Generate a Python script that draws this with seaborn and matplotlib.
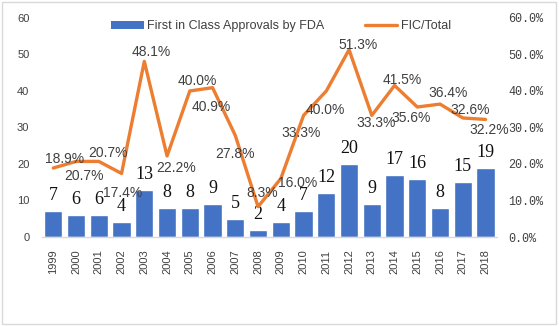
import matplotlib
matplotlib.use("Agg")
import matplotlib.pyplot as plt
from matplotlib.patches import Rectangle
from matplotlib.lines import Line2D
from matplotlib.patches import Patch
import seaborn as sns
import pandas as pd

years = [str(y) for y in range(1999, 2019)]
fic_approvals = [7, 6, 6, 4, 13, 8, 8, 9, 5, 2, 4, 7, 12, 20, 9, 17, 16, 8, 15, 19]
fic_share = [18.9, 20.7, 20.7, 17.4, 48.1, 22.2, 40.0, 40.9, 27.8, 8.3,
             16.0, 33.3, 40.0, 51.3, 33.3, 41.5, 35.6, 36.4, 32.6, 32.2]
left_ticks = [0, 10, 20, 30, 40, 50, 60]
right_ticks = [0.0, 10.0, 20.0, 30.0, 40.0, 50.0, 60.0]

# label offsets (pixels) for the share labels so they stay clear of the line
share_offsets = [(11, 9), (8, -15), (9, 8), (1, -20), (7, 9), (9, -12), (8, 10),
                 (-1, -19), (0, -19), (4, 14), (17, -4), (-2, -18), (-1, -19),
                 (9, 5), (4, -8), (8, 5), (-6, -11), (8, 11), (7, 8), (4, -11)]

BAR = "#4472C4"
LINE = "#ED7D31"
TXT = "#404040"

df = pd.DataFrame({"year": years, "approvals": fic_approvals,
                   "pos": range(len(years)), "share": fic_share})

sns.set_theme(style="white")
plt.rcParams["font.family"] = ["Liberation Sans", "DejaVu Sans"]

fig = plt.figure(figsize=(5.59, 3.26), dpi=100)
ax = fig.add_axes([0.075, 0.273, 0.814, 0.672])

sns.barplot(data=df, x="year", y="approvals", color=BAR, width=0.8,
            saturation=1, ax=ax, zorder=2)
ax.set_ylim(0, 60)
ax.set_yticks(left_ticks)
ax.set_yticklabels([str(t) for t in left_ticks], fontsize=8, color=TXT)
ax.set_xlabel("")
ax.set_ylabel("")
ax.tick_params(axis="x", labelrotation=90, labelsize=8, labelcolor=TXT,
               length=0, pad=9)
ax.tick_params(axis="y", length=0, pad=9)
for s in ["top", "left", "right"]:
    ax.spines[s].set_visible(False)
ax.spines["bottom"].set_color("#D9D9D9")
ax.spines["bottom"].set_linewidth(1)

for i, v in enumerate(fic_approvals):
    ax.annotate(str(v), (i, v), xytext=(0, 7), textcoords="offset pixels",
                ha="center", va="bottom", fontsize=13, color="#111111",
                family="Liberation Serif")

ax2 = ax.twinx()
sns.lineplot(data=df, x="pos", y="share", color=LINE, linewidth=2.4, ax=ax2,
             zorder=3)
ax2.set_ylim(0, 60)
ax2.set_yticks(right_ticks)
ax2.set_yticklabels([f"{t:.1f}%" for t in right_ticks], fontsize=8.5,
                    color=TXT, family="Liberation Mono")
ax2.tick_params(axis="y", length=0, pad=8)
ax2.set_ylabel("")
ax2.set_xlabel("")
for s in ["top", "left", "right", "bottom"]:
    ax2.spines[s].set_visible(False)
ax.set_xlim(-0.5, len(years) - 0.5)
ax2.set_xlim(-0.5, len(years) - 0.5)

for i, (v, off) in enumerate(zip(fic_share, share_offsets)):
    ax2.annotate(f"{v:.1f}%", (i, v), xytext=off, textcoords="offset pixels",
                 ha="center", va="center", fontsize=10, color=TXT)

handles = [Patch(facecolor=BAR, edgecolor="none"),
           Line2D([], [], color=LINE, linewidth=2.4)]
fig.legend(handles, ["First in Class Approvals by FDA", "FIC/Total"],
           loc="center", bbox_to_anchor=(0.503, 0.92), ncol=2, frameon=False,
           fontsize=9, handlelength=2.6, handleheight=0.6, columnspacing=3.2,
           handletextpad=0.3, labelcolor=TXT)

fig.patches.append(Rectangle((0.004, 0.006), 0.991, 0.988,
                             transform=fig.transFigure, fill=False,
                             edgecolor="#D9D9D9", linewidth=1))

fig.savefig("out.png", dpi=100)
